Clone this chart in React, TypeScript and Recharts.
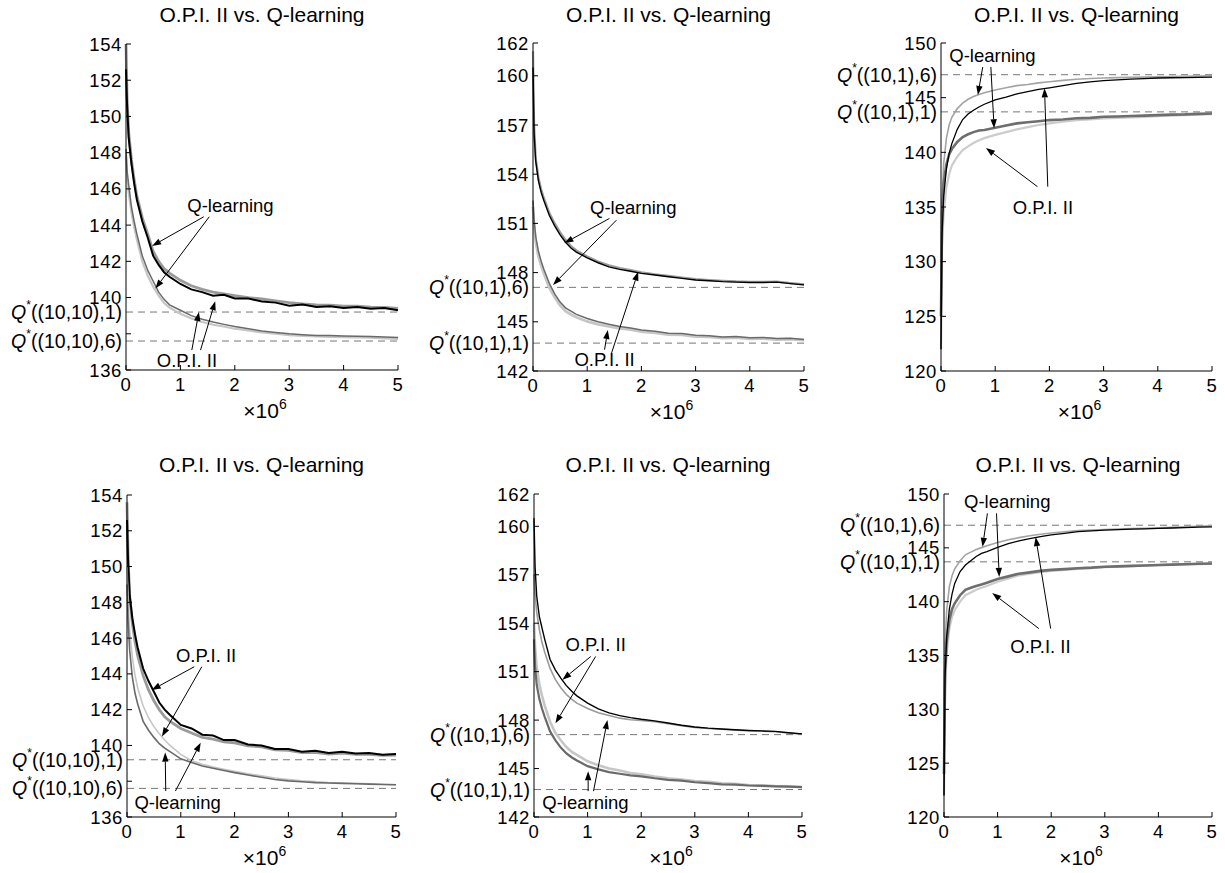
import { LineChart, Line, XAxis, YAxis, ReferenceLine, ReferenceDot } from 'recharts';

// Iterations (in millions) shared by every panel.
const X_M = [0, 0.02, 0.05, 0.1, 0.15, 0.2, 0.3, 0.4, 0.5, 0.6, 0.7, 0.8, 1.0, 1.2, 1.4, 1.6, 1.8, 2.0, 2.25, 2.5, 2.75, 3.0, 3.25, 3.5, 3.75, 4.0, 4.25, 4.5, 4.75, 5.0];
const X_TICKS = [0, 1, 2, 3, 4, 5];
const Y_TICKS_A = [136, 138, 140, 142, 144, 146, 148, 150, 152, 154];
const Y_TICKS_B = [142, 145, 148, 151, 154, 157, 160, 162];
const Y_TICKS_C = [120, 125, 130, 135, 140, 145, 150];
// Tick labels covered by the Q* labels in the (10,10) panels.
const HIDDEN_A = [138];

const TITLE = 'O.P.I. II vs. Q-learning';

// Optimal Q-values (dashed reference levels).
const Q_10_10_1 = 139.2;
const Q_10_10_6 = 137.6;
const Q_10_1_6 = 147.1;
const Q_10_1_1 = 143.7;

const p1Black = [152.6, 150.6, 148.8, 147.4, 146.3, 145.4, 144.2, 143.3, 142.3, 141.8, 141.4, 141.15, 140.75, 140.45, 140.3, 140.1, 140.15, 139.95, 139.95, 139.78, 139.72, 139.55, 139.62, 139.48, 139.52, 139.42, 139.48, 139.38, 139.42, 139.3];
const p1Gray = [154.0, 151.0, 149.1, 147.6, 146.5, 145.6, 144.4, 143.5, 142.55, 142.0, 141.6, 141.35, 140.95, 140.65, 140.45, 140.3, 140.2, 140.1, 140.0, 139.92, 139.82, 139.72, 139.65, 139.6, 139.58, 139.52, 139.52, 139.47, 139.45, 139.4];
const p1Dark = [148.2, 147.0, 146.2, 145.0, 144.2, 143.5, 142.3, 141.5, 140.9, 140.3, 139.9, 139.6, 139.3, 139.0, 138.8, 138.65, 138.52, 138.4, 138.28, 138.15, 138.07, 138.0, 137.95, 137.9, 137.9, 137.88, 137.87, 137.85, 137.82, 137.8];
const p1Light = [147.8, 146.6, 145.8, 144.7, 143.9, 143.2, 142.0, 141.2, 140.6, 140.1, 139.7, 139.45, 139.1, 138.85, 138.65, 138.5, 138.4, 138.28, 138.18, 138.07, 138.0, 137.93, 137.88, 137.85, 137.83, 137.82, 137.8, 137.78, 137.75, 137.72];

const p2Black = [160.5, 156.5, 154.8, 153.6, 152.9, 152.4, 151.5, 150.85, 150.3, 149.85, 149.5, 149.25, 148.9, 148.6, 148.35, 148.2, 148.08, 147.95, 147.85, 147.75, 147.65, 147.55, 147.5, 147.45, 147.42, 147.4, 147.4, 147.42, 147.33, 147.25];
const p2Gray = [161.5, 157.0, 155.0, 153.8, 153.1, 152.55, 151.65, 151.0, 150.45, 150.0, 149.62, 149.35, 148.98, 148.68, 148.45, 148.28, 148.15, 148.02, 147.9, 147.8, 147.7, 147.6, 147.55, 147.5, 147.46, 147.44, 147.44, 147.45, 147.36, 147.28];
const p2Dark = [152.4, 151.2, 150.2, 149.3, 148.7, 148.2, 147.35, 146.7, 146.2, 145.85, 145.65, 145.45, 145.2, 145.0, 144.85, 144.72, 144.62, 144.5, 144.42, 144.3, 144.28, 144.18, 144.15, 144.08, 144.1, 144.03, 144.05, 143.98, 144.0, 143.92];
const p2Light = [152.0, 150.9, 149.9, 149.0, 148.45, 147.95, 147.1, 146.5, 146.0, 145.65, 145.45, 145.28, 145.02, 144.85, 144.72, 144.6, 144.52, 144.4, 144.33, 144.22, 144.2, 144.1, 144.08, 144.0, 144.03, 143.96, 143.98, 143.92, 143.94, 143.88];

const p3Gray = [125.0, 135.5, 139.0, 141.3, 142.5, 143.2, 144.0, 144.5, 144.85, 145.1, 145.3, 145.45, 145.7, 145.9, 146.1, 146.2, 146.35, 146.45, 146.58, 146.68, 146.75, 146.8, 146.83, 146.86, 146.88, 146.9, 146.93, 146.95, 146.97, 147.0];
const p3Black = [122.0, 132.5, 136.0, 138.5, 139.9, 140.8, 142.1, 143.0, 143.5, 143.85, 144.15, 144.4, 144.8, 145.05, 145.35, 145.55, 145.75, 145.9, 146.1, 146.3, 146.45, 146.55, 146.62, 146.7, 146.75, 146.8, 146.82, 146.84, 146.85, 146.87];
const p3Dark = [125.0, 134.5, 137.2, 138.9, 139.8, 140.3, 140.95, 141.4, 141.65, 141.85, 142.0, 142.05, 142.25, 142.45, 142.65, 142.75, 142.85, 142.95, 143.0, 143.12, 143.15, 143.25, 143.28, 143.32, 143.36, 143.4, 143.45, 143.47, 143.52, 143.55];
const p3Light = [122.0, 131.5, 134.5, 136.8, 138.0, 138.8, 139.6, 140.2, 140.55, 140.85, 141.1, 141.3, 141.6, 141.85, 142.1, 142.3, 142.5, 142.65, 142.8, 142.95, 143.02, 143.1, 143.15, 143.2, 143.25, 143.3, 143.35, 143.4, 143.45, 143.5];

const p4Black = [152.6, 150.3, 148.4, 147.1, 146.2, 145.45, 144.3, 143.6, 143.0, 142.4, 142.0, 141.7, 141.15, 140.95, 140.6, 140.55, 140.3, 140.3, 140.05, 140.0, 139.8, 139.8, 139.65, 139.7, 139.58, 139.65, 139.55, 139.58, 139.48, 139.52];
const p4Gray = [153.6, 150.6, 148.3, 146.8, 145.8, 145.0, 143.9, 143.1, 142.5, 142.0, 141.6, 141.35, 140.95, 140.7, 140.45, 140.35, 140.2, 140.15, 139.98, 139.92, 139.75, 139.72, 139.6, 139.62, 139.52, 139.57, 139.5, 139.5, 139.44, 139.46];
const p4Dark = [149.0, 147.0, 145.3, 143.8, 142.9, 142.3, 141.35, 140.85, 140.45, 140.1, 139.85, 139.65, 139.25, 139.05, 138.85, 138.72, 138.6, 138.48, 138.35, 138.22, 138.1, 138.02, 137.97, 137.92, 137.9, 137.88, 137.86, 137.84, 137.82, 137.8];
const p4Light = [150.0, 148.0, 146.4, 144.9, 143.9, 143.2, 142.2, 141.55, 141.05, 140.65, 140.3, 140.0, 139.5, 139.15, 138.95, 138.8, 138.67, 138.55, 138.42, 138.3, 138.18, 138.1, 138.03, 137.98, 137.93, 137.9, 137.88, 137.86, 137.83, 137.8];

const p5Black = [160.5, 157.5, 155.7, 154.4, 153.7, 153.0, 151.75, 151.1, 150.6, 150.15, 149.8, 149.5, 149.05, 148.7, 148.45, 148.28, 148.15, 148.05, 147.95, 147.82, 147.68, 147.57, 147.5, 147.45, 147.4, 147.36, 147.33, 147.3, 147.22, 147.15];
const p5Gray = [157.0, 155.8, 154.7, 153.6, 152.8, 152.2, 151.2, 150.5, 150.0, 149.6, 149.3, 149.05, 148.72, 148.45, 148.28, 148.12, 148.02, 147.98, 147.9, 147.78, 147.66, 147.55, 147.48, 147.43, 147.38, 147.34, 147.31, 147.28, 147.2, 147.13];
const p5Dark = [153.0, 151.3, 150.2, 149.3, 148.7, 148.2, 147.3, 146.75, 146.3, 145.95, 145.7, 145.5, 145.15, 144.95, 144.78, 144.68, 144.58, 144.52, 144.4, 144.3, 144.25, 144.15, 144.1, 144.02, 144.0, 143.95, 143.93, 143.9, 143.88, 143.85];
const p5Light = [154.0, 152.5, 151.3, 150.2, 149.5, 148.9, 147.9, 147.2, 146.75, 146.35, 146.05, 145.85, 145.45, 145.2, 145.0, 144.88, 144.72, 144.65, 144.5, 144.4, 144.32, 144.22, 144.18, 144.08, 144.06, 143.98, 143.96, 143.92, 143.9, 143.86];

const p6Gray = [125.0, 136.0, 139.2, 141.4, 142.4, 143.05, 143.8, 144.35, 144.6, 144.85, 145.02, 145.2, 145.5, 145.75, 145.95, 146.12, 146.26, 146.38, 146.5, 146.6, 146.65, 146.7, 146.74, 146.78, 146.82, 146.85, 146.9, 146.95, 147.0, 147.05];
const p6Black = [122.0, 133.0, 136.8, 139.3, 140.7, 141.7, 142.8, 143.4, 143.8, 144.2, 144.48, 144.65, 145.05, 145.4, 145.65, 145.85, 146.05, 146.2, 146.35, 146.5, 146.58, 146.65, 146.7, 146.74, 146.77, 146.8, 146.84, 146.88, 146.92, 146.95];
const p6Dark = [124.0, 133.5, 136.3, 138.3, 139.3, 139.85, 140.6, 141.1, 141.3, 141.45, 141.6, 141.75, 142.1, 142.35, 142.6, 142.72, 142.86, 142.95, 143.02, 143.1, 143.16, 143.25, 143.28, 143.32, 143.36, 143.4, 143.44, 143.47, 143.52, 143.55];
const p6Light = [122.0, 132.0, 135.2, 137.5, 138.6, 139.2, 140.0, 140.6, 140.85, 141.1, 141.3, 141.45, 141.85, 142.15, 142.45, 142.6, 142.75, 142.85, 142.95, 143.05, 143.12, 143.2, 143.25, 143.3, 143.35, 143.4, 143.43, 143.46, 143.48, 143.5];

const FONT = '"Liberation Sans", Arial, Helvetica, sans-serif';

interface Series { key: string; values: number[]; color: string; width: number }
interface Note { text: string; x: number; y: number; arrows: number[][] }
interface PanelCfg {
  left: number; top: number; width: number; height: number;
  margin: { top: number; right: number; bottom: number; left: number };
  domain: [number, number]; ticks: number[]; hidden: number[];
  refs: { y: number; sub: string }[];
  series: Series[]; notes: Note[];
}

// Plot bottoms sit at 370 (top row) and 817 (bottom row).
const TOP_ROW = { top: 0, height: 440, mTop: 44, mBottom: 40 };
const BOT_ROW = { top: 420, height: 453, mTop: 74, mBottom: 26 };

const refsA = [{ y: Q_10_10_1, sub: '((10,10),1)' }, { y: Q_10_10_6, sub: '((10,10),6)' }];
const refsB = [{ y: Q_10_1_6, sub: '((10,1),6)' }, { y: Q_10_1_1, sub: '((10,1),1)' }];

const panels: PanelCfg[] = [
  {
    left: 0, top: TOP_ROW.top, width: 410, height: TOP_ROW.height,
    margin: { top: TOP_ROW.mTop, right: 12, bottom: TOP_ROW.mBottom, left: 86 },
    domain: [136, 154], ticks: Y_TICKS_A, hidden: HIDDEN_A, refs: refsA,
    series: [
      { key: 'gray', values: p1Gray, color: '#9a9a9a', width: 2.8 },
      { key: 'black', values: p1Black, color: '#000000', width: 2 },
      { key: 'light', values: p1Light, color: '#c6c6c6', width: 2.2 },
      { key: 'dark', values: p1Dark, color: '#6a6a6a', width: 1.5 },
    ],
    notes: [
      { text: 'Q-learning', x: 1.92, y: 145.1, arrows: [[1.43, 144.46, 0.48, 142.85], [1.53, 144.46, 0.54, 140.5]] },
      { text: 'O.P.I. II', x: 1.12, y: 136.5, arrows: [[1.21, 137.1, 1.34, 139.2], [1.37, 137.1, 1.64, 139.8]] },
    ],
  },
  {
    left: 410, top: TOP_ROW.top, width: 405, height: TOP_ROW.height,
    margin: { top: TOP_ROW.mTop - 1, right: 11, bottom: TOP_ROW.mBottom - 1, left: 83 },
    domain: [142, 162], ticks: Y_TICKS_B, hidden: [], refs: refsB,
    series: [
      { key: 'gray', values: p2Gray, color: '#9a9a9a', width: 2.2 },
      { key: 'black', values: p2Black, color: '#000000', width: 1.4 },
      { key: 'light', values: p2Light, color: '#c6c6c6', width: 2.8 },
      { key: 'dark', values: p2Dark, color: '#6a6a6a', width: 1.5 },
    ],
    notes: [
      { text: 'Q-learning', x: 1.85, y: 152.0, arrows: [[1.41, 151.3, 0.58, 149.8], [1.54, 151.2, 0.37, 147.25]] },
      { text: 'O.P.I. II', x: 1.32, y: 142.7, arrows: [[1.32, 143.3, 1.38, 144.5], [1.45, 143.1, 1.94, 148.05]] },
    ],
  },
  {
    left: 815, top: TOP_ROW.top, width: 410, height: TOP_ROW.height,
    margin: { top: TOP_ROW.mTop - 1, right: 13, bottom: TOP_ROW.mBottom - 1, left: 86 },
    domain: [120, 150], ticks: Y_TICKS_C, hidden: [], refs: refsB,
    series: [
      { key: 'light', values: p3Light, color: '#cccccc', width: 2.2 },
      { key: 'gray', values: p3Gray, color: '#a3a3a3', width: 1.6 },
      { key: 'dark', values: p3Dark, color: '#6e6e6e', width: 2.6 },
      { key: 'black', values: p3Black, color: '#000000', width: 1.3 },
    ],
    notes: [
      { text: 'Q-learning', x: 0.95, y: 148.9, arrows: [[0.77, 147.8, 0.68, 145.25], [0.92, 147.8, 0.98, 142.2]] },
      { text: 'O.P.I. II', x: 1.88, y: 135.0, arrows: [[1.78, 136.86, 0.83, 140.4], [1.97, 136.86, 1.91, 145.85]] },
    ],
  },
  {
    left: 0, top: BOT_ROW.top, width: 410, height: BOT_ROW.height,
    margin: { top: BOT_ROW.mTop + 1, right: 14, bottom: BOT_ROW.mBottom, left: 87 },
    domain: [136, 154], ticks: Y_TICKS_A, hidden: HIDDEN_A, refs: refsA,
    series: [
      { key: 'gray', values: p4Gray, color: '#9a9a9a', width: 2.8 },
      { key: 'black', values: p4Black, color: '#000000', width: 2 },
      { key: 'light', values: p4Light, color: '#c6c6c6', width: 1.6 },
      { key: 'dark', values: p4Dark, color: '#6a6a6a', width: 1.6 },
    ],
    notes: [
      { text: 'O.P.I. II', x: 1.47, y: 145.05, arrows: [[1.25, 144.4, 0.46, 143.1], [1.39, 144.4, 0.65, 140.5]] },
      { text: 'Q-learning', x: 0.94, y: 136.8, arrows: [[0.72, 137.45, 0.71, 139.6], [0.9, 137.45, 1.37, 140.15]] },
    ],
  },
  {
    left: 410, top: BOT_ROW.top, width: 405, height: BOT_ROW.height,
    margin: { top: BOT_ROW.mTop, right: 13, bottom: BOT_ROW.mBottom, left: 84 },
    domain: [142, 162], ticks: Y_TICKS_B, hidden: [], refs: refsB,
    series: [
      { key: 'gray', values: p5Gray, color: '#9a9a9a', width: 1.6 },
      { key: 'black', values: p5Black, color: '#000000', width: 1.4 },
      { key: 'light', values: p5Light, color: '#c6c6c6', width: 2.6 },
      { key: 'dark', values: p5Dark, color: '#6a6a6a', width: 2.2 },
    ],
    notes: [
      { text: 'O.P.I. II', x: 1.15, y: 152.66, arrows: [[1.06, 151.94, 0.53, 150.5], [1.15, 151.94, 0.4, 147.8]] },
      { text: 'Q-learning', x: 0.96, y: 142.87, arrows: [[1.01, 143.6, 1.01, 144.83], [1.11, 143.6, 1.37, 148.0]] },
    ],
  },
  {
    left: 815, top: BOT_ROW.top, width: 410, height: BOT_ROW.height,
    margin: { top: BOT_ROW.mTop, right: 13, bottom: BOT_ROW.mBottom, left: 89 },
    domain: [120, 150], ticks: Y_TICKS_C, hidden: [], refs: refsB,
    series: [
      { key: 'light', values: p6Light, color: '#cccccc', width: 2.2 },
      { key: 'gray', values: p6Gray, color: '#a3a3a3', width: 1.6 },
      { key: 'dark', values: p6Dark, color: '#6e6e6e', width: 2.6 },
      { key: 'black', values: p6Black, color: '#000000', width: 1.3 },
    ],
    notes: [
      { text: 'Q-learning', x: 1.18, y: 149.3, arrows: [[0.81, 148.2, 0.72, 145.1], [0.98, 148.2, 1.03, 142.3]] },
      { text: 'O.P.I. II', x: 1.8, y: 135.8, arrows: [[1.77, 137.5, 0.9, 140.8], [1.99, 137.5, 1.71, 146.0]] },
    ],
  },
];

const Y_AXIS_W = 40;
const X_AXIS_H = 30;

// Straight annotation arrow with a filled head at the (x2, y2) end.
// eslint-disable-next-line @typescript-eslint/no-explicit-any
const arrowShape = (props: any) => {
  const { x1, y1, x2, y2 } = props;
  if ([x1, y1, x2, y2].some((v) => typeof v !== 'number')) return <g />;
  const ang = Math.atan2(y2 - y1, x2 - x1);
  const len = 9;
  const half = 3.2;
  const bx = x2 - len * Math.cos(ang);
  const by = y2 - len * Math.sin(ang);
  const sx = half * Math.sin(ang);
  const sy = half * Math.cos(ang);
  return (
    <g>
      <line x1={x1} y1={y1} x2={bx} y2={by} stroke="#000" strokeWidth={1} />
      <polygon points={`${x2},${y2} ${bx + sx},${by - sy} ${bx - sx},${by + sy}`} fill="#000" />
    </g>
  );
};

const noteShape = (text: string) => {
  // eslint-disable-next-line @typescript-eslint/no-explicit-any
  return (p: any) => (
    <text x={p.cx} y={p.cy} textAnchor="middle" dominantBaseline="central" fontSize={18.5} fill="#000" fontFamily={FONT}>
      {text}
    </text>
  );
};

const qLabel = (sub: string) => {
  // eslint-disable-next-line @typescript-eslint/no-explicit-any
  return (p: any) => {
    const vb = p.viewBox ?? {};
    return (
      <text x={vb.x - 4} y={vb.y} textAnchor="end" dominantBaseline="central" fontSize={19.5} fill="#000" fontFamily={FONT}>
        <tspan fontStyle="italic">Q</tspan>
        <tspan dy={-7} fontSize={12}>*</tspan>
        <tspan dy={7}>{sub}</tspan>
      </text>
    );
  };
};

// Y tick label; values listed in `hidden` keep their tick mark but no text.
const makeYTick = (hidden: number[]) => {
  // eslint-disable-next-line @typescript-eslint/no-explicit-any
  return (p: any) => {
    if (hidden.includes(p.payload.value)) return <g />;
    return (
      <text x={p.x} y={p.y} textAnchor="end" dominantBaseline="central" fontSize={18.5} letterSpacing={0.6} fill="#000" fontFamily={FONT}>
        {p.payload.value}
      </text>
    );
  };
};

// eslint-disable-next-line @typescript-eslint/no-explicit-any
const XTick = (p: any) => (
  <text x={p.x} y={p.y} dy="0.71em" textAnchor="middle" fontSize={18.5} letterSpacing={0.6} fill="#000" fontFamily={FONT}>
    {p.payload.value}
  </text>
);

// eslint-disable-next-line @typescript-eslint/no-explicit-any
const xUnitLabel = (p: any) => {
  const vb = p.viewBox ?? {};
  return (
    <text x={vb.x + vb.width / 2 + 3} y={vb.y + 48} textAnchor="middle" fontSize={21} fill="#000" fontFamily={FONT}>
      ×10<tspan dy={-9} fontSize={14}>6</tspan>
    </text>
  );
};

function Panel({ cfg }: { cfg: PanelCfg }) {
  const rows = X_M.map((x, i) => {
    const row: Record<string, number> = { x };
    cfg.series.forEach((s) => {
      row[s.key] = s.values[i];
    });
    return row;
  });
  const plotLeft = cfg.margin.left + Y_AXIS_W;
  const plotW = cfg.width - plotLeft - cfg.margin.right;
  const titleY = cfg.top === 0 ? 15 : 45;

  return (
    <div style={{ position: 'absolute', left: cfg.left, top: cfg.top, width: cfg.width, height: cfg.height }}>
      <div
        style={{
          position: 'absolute', left: plotLeft + plotW / 2 - 200, width: 400, top: titleY - 12,
          textAlign: 'center', fontSize: 21, lineHeight: '24px', color: '#000', fontFamily: FONT,
        }}
      >
        {TITLE}
      </div>
      <LineChart width={cfg.width} height={cfg.height} data={rows} margin={cfg.margin}>
        <XAxis
          type="number" dataKey="x" domain={[0, 5]} ticks={X_TICKS} interval={0}
          height={X_AXIS_H} axisLine={{ stroke: '#000' }} tickLine={{ stroke: '#000' }}
          tickSize={-5} tickMargin={13} tick={XTick} label={{ content: xUnitLabel }}
        />
        <YAxis
          type="number" domain={cfg.domain} ticks={cfg.ticks} interval={0} allowDataOverflow
          width={Y_AXIS_W} axisLine={{ stroke: '#000' }} tickLine={{ stroke: '#000' }}
          tickSize={-5} tickMargin={9} tick={makeYTick(cfg.hidden)}
        />
        {cfg.refs.map((r) => (
          <ReferenceLine
            key={r.sub + r.y} y={r.y} stroke="#777" strokeDasharray="7 5" strokeWidth={1}
            label={{ content: qLabel(r.sub) }}
          />
        ))}
        {cfg.series.map((s) => (
          <Line
            key={s.key} type="linear" dataKey={s.key} stroke={s.color} strokeWidth={s.width}
            dot={false} activeDot={false} isAnimationActive={false}
          />
        ))}
        {cfg.notes.flatMap((n) =>
          n.arrows.map((a, i) => (
            <ReferenceLine
              key={`${n.text}-${i}`} ifOverflow="visible"
              segment={[{ x: a[0], y: a[1] }, { x: a[2], y: a[3] }]}
              shape={arrowShape}
            />
          )),
        )}
        {cfg.notes.map((n) => (
          <ReferenceDot key={n.text} x={n.x} y={n.y} r={1} ifOverflow="visible" shape={noteShape(n.text)} />
        ))}
      </LineChart>
    </div>
  );
}

export default function App() {
  return (
    <div style={{ position: 'absolute', left: 0, top: 0, width: 1225, height: 873, background: '#fff', fontFamily: FONT }}>
      {panels.map((cfg, i) => (
        <Panel key={i} cfg={cfg} />
      ))}
    </div>
  );
}
